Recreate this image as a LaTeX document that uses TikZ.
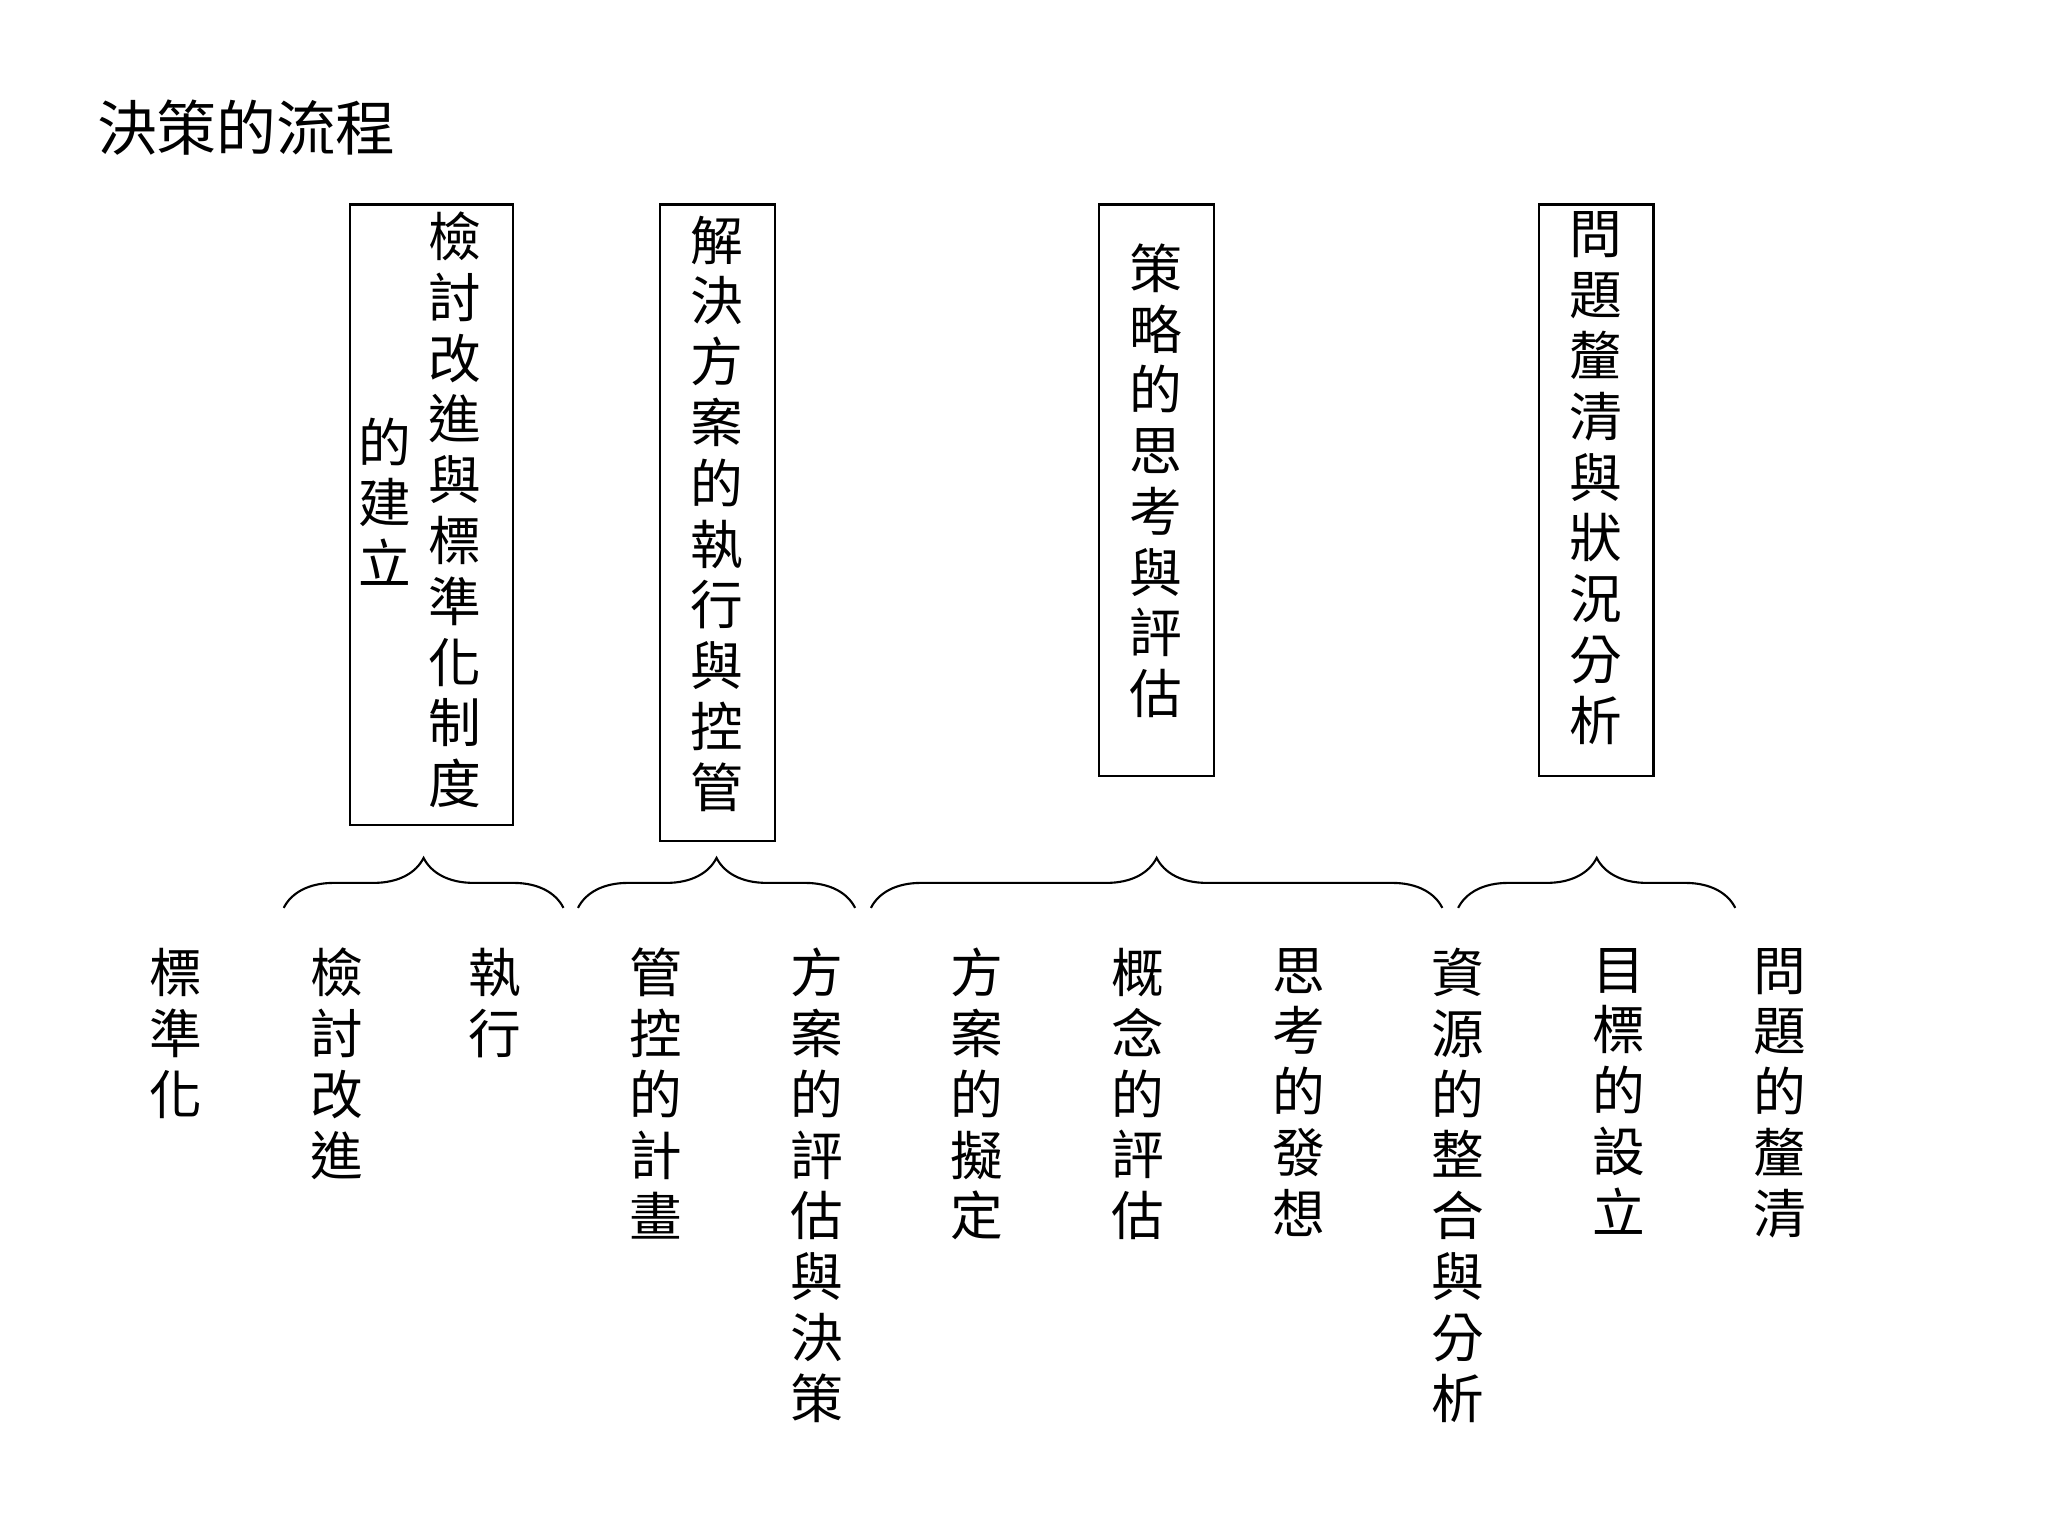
\documentclass[tikz,border=0pt]{standalone}
\usepackage{fontspec}
\setmainfont{Noto Sans CJK TC}
\usetikzlibrary{decorations.pathreplacing}
\begin{document}
\begin{tikzpicture}[x=0.0132cm,y=-0.0132cm,
  box/.style={draw,line width=0.6pt,inner sep=0pt},
  vt/.style={anchor=north,align=center,inner sep=0pt,font=\fontsize{15}{17.3}\selectfont},
  br/.style={decorate,decoration={brace,amplitude=0.5cm},line width=0.6pt}]
\useasboundingbox (0,0) rectangle (1552,1164);
\node[anchor=west,inner sep=0pt,font=\fontsize{17}{20}\selectfont] (title) at (73,97) {決策的流程};
% boxes
\node[box,minimum width=124*0.0132cm,minimum height=470*0.0132cm] (b1) at (327,390) {};
\node[vt] (b1a) at (345,160) {檢\\討\\改\\進\\與\\標\\準\\化\\制\\度};
\node[vt] (b1b) at (292,316) {的\\建\\立};
\node[box,minimum width=87*0.0132cm,minimum height=482*0.0132cm] (b2) at (543.5,396) {};
\node[vt] (b2a) at (543,163) {解\\決\\方\\案\\的\\執\\行\\與\\控\\管};
\node[box,minimum width=87*0.0132cm,minimum height=433*0.0132cm] (b3) at (876.5,371.5) {};
\node[vt] (b3a) at (876,184) {策\\略\\的\\思\\考\\與\\評\\估};
\node[box,minimum width=87*0.0132cm,minimum height=433*0.0132cm] (b4) at (1209.5,371.5) {};
\node[vt] (b4a) at (1209,160) {問\\題\\釐\\清\\與\\狀\\況\\分\\析};
% braces
\coordinate (l1) at (215,688); \coordinate (r1) at (427,688);
\coordinate (l2) at (438,688); \coordinate (r2) at (648,688);
\coordinate (l3) at (660,688); \coordinate (r3) at (1093,688);
\coordinate (l4) at (1105,688); \coordinate (r4) at (1315,688);
\draw[br] (l1) -- (r1);
\draw[br] (l2) -- (r2);
\draw[br] (l3) -- (r3);
\draw[br] (l4) -- (r4);
% bottom items
\node[vt] (c1) at (133,718) {標\\準\\化};
\node[vt] (c2) at (255,718) {檢\\討\\改\\進};
\node[vt] (c3) at (375,718) {執\\行};
\node[vt] (c4) at (497,718) {管\\控\\的\\計\\畫};
\node[vt] (c5) at (619,718) {方\\案\\的\\評\\估\\與\\決\\策};
\node[vt] (c6) at (740,718) {方\\案\\的\\擬\\定};
\node[vt] (c7) at (862,718) {概\\念\\的\\評\\估};
\node[vt] (c8) at (984,718) {思\\考\\的\\發\\想};
\node[vt] (c9) at (1105,718) {資\\源\\的\\整\\合\\與\\分\\析};
\node[vt] (c10) at (1227,718) {目\\標\\的\\設\\立};
\node[vt] (c11) at (1349,718) {問\\題\\的\\釐\\清};
\end{tikzpicture}
\end{document}
